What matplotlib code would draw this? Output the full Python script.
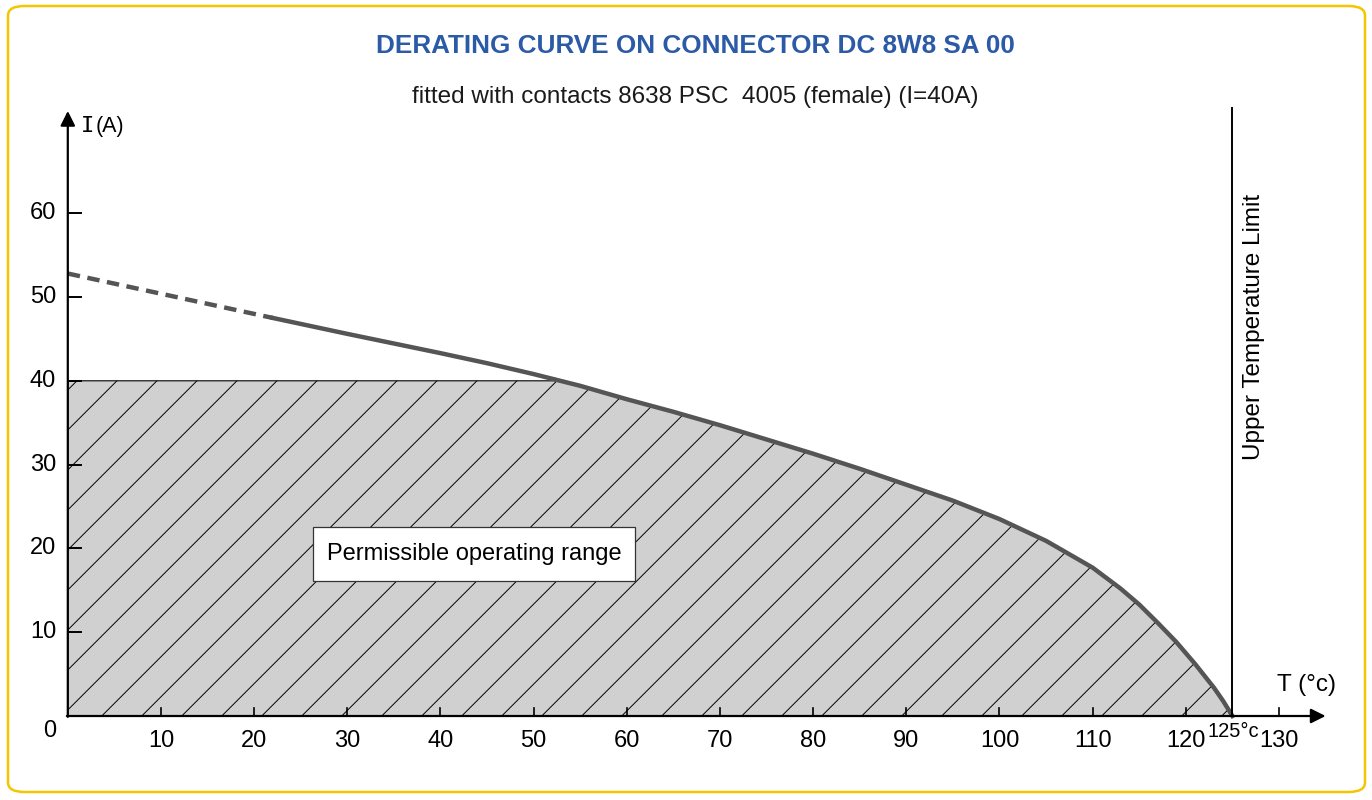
import numpy as np
import matplotlib
matplotlib.use("Agg")
import matplotlib.pyplot as plt
from matplotlib.patches import Polygon, Rectangle, FancyBboxPatch

# derating curve (T in degC, I in A)
dashed_temp = [0, 22]
dashed_current = [52.8, 47.5]
curve_temp = [22, 30, 40, 45, 50, 55, 60, 65, 70, 75, 80, 85, 90, 95, 100, 105, 110,
              113, 115, 117, 119, 120, 121, 122, 123, 124, 124.5, 125]
curve_current = [47.5, 45.6, 43.3, 42.1, 40.8, 39.4, 37.8, 36.3, 34.7, 33.0, 31.3, 29.5, 27.6, 25.7, 23.5, 20.9, 17.7,
                 15.2, 13.3, 11.1, 8.8, 7.5, 6.2, 4.8, 3.4, 1.8, 0.9, 0.0]
rated_current = 40
temp_limit = 125
x_ticks = [10, 20, 30, 40, 50, 60, 70, 80, 90, 100, 110, 120, 130]
y_ticks = [10, 20, 30, 40, 50, 60]

title = "DERATING CURVE ON CONNECTOR DC 8W8 SA 00"
subtitle = "fitted with contacts 8638 PSC  4005 (female) (I=40A)"

plt.rcParams['font.family'] = ['Liberation Sans', 'DejaVu Sans']

# pixel scale of the drawing (px per unit) and origin in the picture
PX_T, PX_I = 9.317, 8.38
X0, Y0 = 67.8, 716

fig = plt.figure(figsize=(13.72, 8), dpi=100)
ax = fig.add_axes([0, 0, 1, 1])
ax.set_xlim(-X0 / PX_T, (1372 - X0) / PX_T)
ax.set_ylim(-(800 - Y0) / PX_I, Y0 / PX_I)
ax.axis('off')

# yellow rounded frame
frame = FancyBboxPatch((8 / 1372, 8 / 800), 1357 / 1372, 786 / 800,
                       boxstyle="round,pad=0,rounding_size=0.012",
                       transform=fig.transFigure, fill=False,
                       edgecolor='#f3c600', linewidth=1.8, zorder=0)
fig.patches.append(frame)

# permissible region: below the curve and capped at the rated current
t = np.array(curve_temp)
i = np.array(curve_current)
t_cross = np.interp(rated_current, i[::-1], t[::-1])
keep = t > t_cross
poly_t = np.concatenate([[0, t_cross], t[keep], [temp_limit, 0]])
poly_i = np.concatenate([[rated_current, rated_current], i[keep], [0, 0]])
region = Polygon(np.column_stack([poly_t, poly_i]), closed=True,
                 facecolor='#d0d0d0', edgecolor='black', linewidth=0.8, zorder=1)
ax.add_patch(region)

# diagonal hatch lines, 45 deg on screen, 40 px apart
step = 40 / PX_T
for t0 in np.arange(-0.65 - step * 12, 130, step):
   ln, = ax.plot([t0, t0 + 50 * PX_I / PX_T], [0, 50], color='black', linewidth=0.7, zorder=2)
   ln.set_clip_path(region)

# the curve
ax.plot(dashed_temp, dashed_current, color='#555555', linewidth=3.2,
        dashes=(2.8, 1.7), solid_capstyle='butt', zorder=3)
ax.plot(curve_temp, curve_current, color='#555555', linewidth=3.2,
        solid_joinstyle='round', zorder=3)

# axes with arrows
arrow = dict(arrowstyle='-|>', color='black', linewidth=1.6, mutation_scale=22, shrinkA=0, shrinkB=0)
ax.annotate('', xy=(0, 72.2), xytext=(0, -0.1), arrowprops=arrow, zorder=4)
ax.annotate('', xy=(135.0, 0), xytext=(-0.1, 0), arrowprops=arrow, zorder=4)

for v in y_ticks:
   ax.plot([0, 13 / PX_T], [v, v], color='black', linewidth=1.4, zorder=4)
   ax.text(-1.25, v, str(v), ha='right', va='center', fontsize=17)
for v in x_ticks:
   ax.plot([v, v], [0, 8 / PX_I], color='black', linewidth=1.2, zorder=4)
   ax.text(v, -3.0, str(v), ha='center', va='center', fontsize=17)
ax.text(-1.25, -1.8, "0", ha='right', va='center', fontsize=17)

# upper temperature limit
ax.plot([temp_limit, temp_limit], [0, 72.6], color='black', linewidth=1.4, zorder=4)
ax.text(127.3, 46.4, "Upper Temperature Limit", rotation=90, ha='center', va='center', fontsize=17.5)
ax.text(125.1, -1.9, "125°c", ha='center', va='center', fontsize=14.5)

# axis labels
ax.text(1.45, 70.4, "I", ha='left', va='center', fontsize=16, family='DejaVu Sans Mono')
ax.text(3.0, 70.4, "(A)", ha='left', va='center', fontsize=15.5)
ax.text(129.8, 3.7, "T (°c)", ha='left', va='center', fontsize=17.5)

# label box
ax.add_patch(Rectangle((26.3, 16.1), 34.6, 6.45, facecolor='white', edgecolor='#333333',
                       linewidth=0.9, zorder=5))
ax.text(43.6, 19.3, "Permissible operating range", ha='center', va='center', fontsize=17, zorder=6)

# titles
fig.text(695 / 1372, 1 - 46 / 800, title, ha='center', va='center',
         fontsize=18.8, fontweight='bold', color='#2b5aa6')
fig.text(695 / 1372, 1 - 97 / 800, subtitle, ha='center', va='center', fontsize=17.5, color='#1a1a1a')

fig.savefig("out.png", dpi=100, facecolor='white')
